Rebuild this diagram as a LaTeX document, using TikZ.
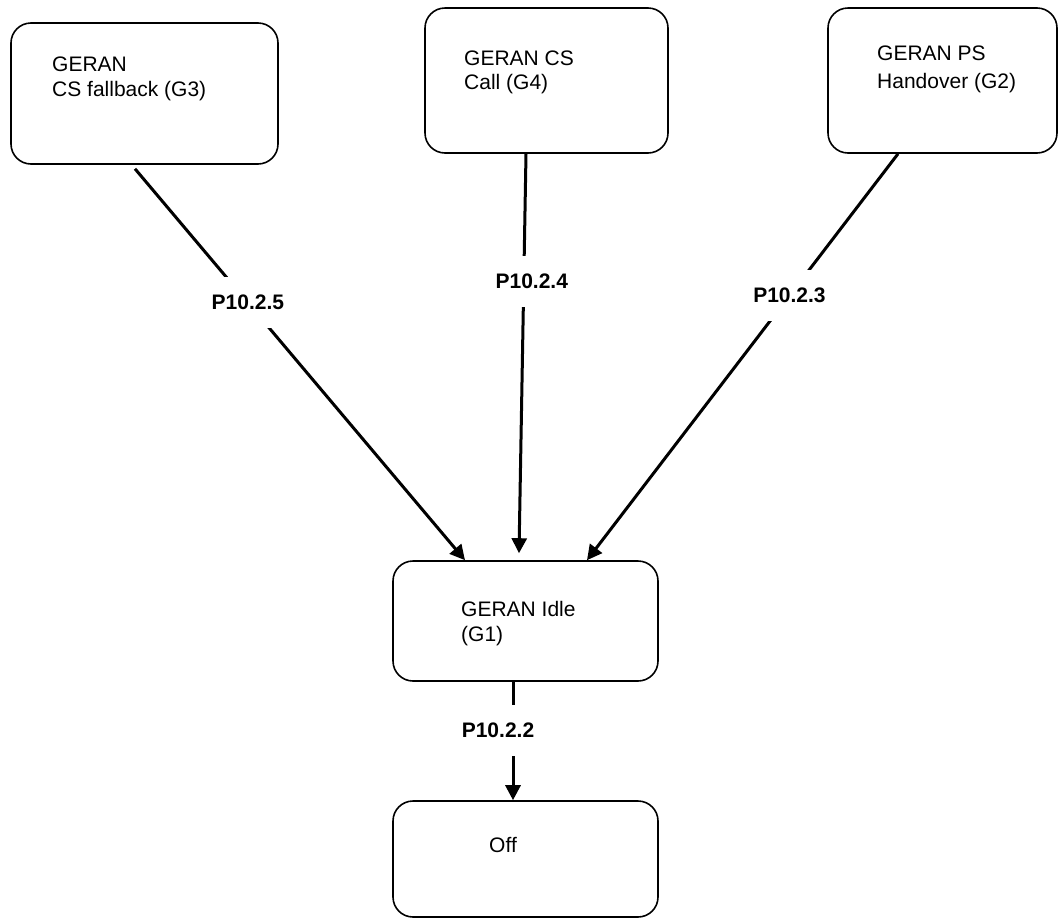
\documentclass[tikz,border=0pt]{standalone}
\usepackage{fontspec}
\setmainfont{Liberation Sans}
\usetikzlibrary{arrows.meta}
\tikzset{
  box/.style={draw, line width=1.6pt, rounded corners=20pt, rectangle, inner sep=0pt},
  txt/.style={inner sep=0pt, anchor=base west, align=left},
  conn/.style={line width=3pt, -{Triangle[length=15pt,width=15pt]}},
  lab/.style={font=\fontsize{21pt}{25pt}\selectfont\bfseries, fill=white, inner xsep=2pt, inner ysep=18pt},
}
\begin{document}
\begin{tikzpicture}[x=1pt, y=-1pt, every node/.append style={font=\fontsize{21pt}{25pt}\selectfont}]
\useasboundingbox[fill=white] (0,0) rectangle (1060,919);
% boxes
\node[box, minimum width=267pt, minimum height=141pt] (g3) at (144.5,93.5) {};
\node[box, minimum width=243pt, minimum height=145pt] (g4) at (546.5,80.5) {};
\node[box, minimum width=229pt, minimum height=145pt] (g2) at (942.5,80.5) {};
\node[box, minimum width=265pt, minimum height=120pt] (g1) at (525.5,621) {};
\node[box, minimum width=265pt, minimum height=116pt] (off) at (525.5,859) {};
% texts (base anchor = last line's baseline)
\node[txt] (t3) at (52,96.5) {GERAN\\CS fallback (G3)};
\node[txt, font=\fontsize{21pt}{24pt}\selectfont] (t4) at (464,89.5) {GERAN CS\\Call (G4)};
\node[txt, font=\fontsize{21pt}{28pt}\selectfont] (t2) at (877,88) {GERAN PS\\Handover (G2)};
\node[txt] (t1) at (461,641.5) {GERAN Idle\\(G1)};
\node[txt] (t0) at (489,852.5) {Off};
% connectors
\draw[conn] ([xshift=-9.5pt,yshift=-4pt]g3.south) -- node[lab, pos=0.342]{P10.2.5} ([xshift=-60.5pt]g1.north);
\draw[conn] ([xshift=-20.5pt]g4.south) -- node[lab, pos=0.32, xshift=8pt]{P10.2.4} ([xshift=-6.5pt,yshift=7pt]g1.north);
\draw[conn] ([xshift=-44.5pt]g2.south) -- node[lab, pos=0.349]{P10.2.3} ([xshift=61.5pt]g1.north);
\draw[conn] ([xshift=-12.5pt]g1.south) -- node[lab, pos=0.41, xshift=-15pt]{P10.2.2} ([xshift=-12.5pt]off.north);
\end{tikzpicture}
\end{document}
